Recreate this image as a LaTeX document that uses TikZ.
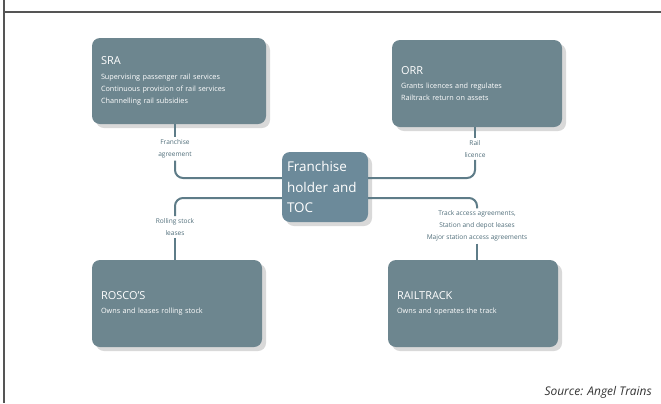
\documentclass[tikz,border=0pt]{standalone}
\usepackage{fontspec}
\setmainfont{Open Sans}
\usetikzlibrary{shadows}
\definecolor{boxc}{HTML}{6D868F}
\definecolor{tocc}{HTML}{6C8A9A}
\definecolor{linec}{HTML}{5E7C88}
\definecolor{lblc}{HTML}{4F6D79}
\definecolor{framec}{HTML}{555555}
\begin{document}
\begin{tikzpicture}[x=1bp,y=-1bp,
  boxstyle/.style={rounded corners=8bp, fill=boxc, text=white, align=left,
    inner xsep=9bp, inner ysep=0pt, font=\fontsize{7.3}{12}\selectfont,
    drop shadow={opacity=0.3, shadow xshift=4bp, shadow yshift=-4bp}},
  lbl/.style={text=lblc, align=center, font=\fontsize{6.6}{12.2}\selectfont, inner sep=2bp},
  conn/.style={draw=linec, line width=2bp, rounded corners=8bp}]
\useasboundingbox (0,0) rectangle (661,403);
\draw[framec, line width=1.2bp] (4,0) -- (4,403) (4,12) -- (661,12);

\node[boxstyle, text width=156bp, minimum height=86bp] (sra) at (179,81)
  {{\fontsize{11}{12}\selectfont SRA}\\[3bp]Supervising passenger rail services\\Continuous provision of rail services\\Channelling rail subsidies};
\node[boxstyle, text width=152bp, minimum height=87bp] (orr) at (477,83.5)
  {{\fontsize{11}{12}\selectfont ORR}\\[2bp]Grants licences and regulates\\Railtrack return on assets};
\node[boxstyle, text width=152bp, minimum height=87bp] (rosco) at (177,303.5)
  {{\fontsize{11}{12}\selectfont ROSCO'S}\\[2bp]Owns and leases rolling stock};
\node[boxstyle, text width=152bp, minimum height=87bp] (rail) at (473,303.5)
  {{\fontsize{11}{12}\selectfont RAILTRACK}\\[2bp]Owns and operates the track};
\node[boxstyle, fill=tocc, inner xsep=5bp, text width=76bp, minimum height=70bp,
  font=\fontsize{13.5}{20.5}\selectfont] (toc) at (325,187)
  {Franchise\\holder and\\TOC};

\node[lbl] (lfa) at (175,149) {Franchise\\agreement};
\node[lbl] (lrl) at (475,149) {Rail\\licence};
\node[lbl] (lrs) at (175,227) {Rolling stock\\leases};
\node[lbl] (lta) at (477,226) {Track access agreements,\\Station and depot leases\\Major station access agreements};

\draw[conn] (lfa.north |- sra.south) -- (lfa.north);
\draw[conn] (lfa.south) |- ([yshift=9bp]toc.west);
\draw[conn] (lrl.north |- orr.south) -- (lrl.north);
\draw[conn] (lrl.south) |- ([yshift=9bp]toc.east);
\draw[conn] ([yshift=-11bp]toc.west) -| (lrs.north);
\draw[conn] (lrs.south) -- (lrs.south |- rosco.north);
\draw[conn] ([yshift=-11bp]toc.east) -| (lta.north);
\draw[conn] (lta.south) -- (lta.south |- rail.north);

\node[anchor=base east, font=\fontsize{12}{14}\selectfont\itshape, text=black!80, inner sep=0pt]
  (src) at (652,395) {Source: Angel Trains};
\end{tikzpicture}
\end{document}
